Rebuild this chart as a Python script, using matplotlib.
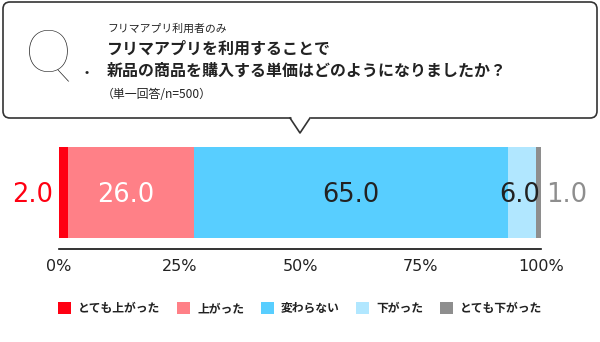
import matplotlib
matplotlib.use('Agg')
import matplotlib.pyplot as plt
from matplotlib.patches import FancyBboxPatch, Rectangle

plt.rcParams['font.family'] = ['Noto Sans CJK JP', 'DejaVu Sans']

# data
categories = ['とても上がった', '上がった', '変わらない', '下がった', 'とても下がった']
values = [2.0, 26.0, 65.0, 6.0, 1.0]
colors = ['#FF0012', '#FF8087', '#58CEFF', '#B1E7FF', '#8E8E8E']
label_colors = ['#FF0012', '#FFFFFF', '#222222', '#222222', '#8E8E8E']
tick_pos = [0, 25, 50, 75, 100]
tick_labels = ['0%', '25%', '50%', '75%', '100%']

W, H = 600, 342
fig = plt.figure(figsize=(6, 3.42), dpi=100)

# overlay in pixel coords for the question box
ov = fig.add_axes([0, 0, 1, 1])
ov.set_xlim(0, W)
ov.set_ylim(H, 0)
ov.axis('off')

box = FancyBboxPatch((3, 2), 594, 116, boxstyle='round,pad=0,rounding_size=7',
                     fc='white', ec='#333333', lw=1.2)
ov.add_patch(box)
# pointer under the box
ov.plot([290.5, 309.5], [118, 118], color='white', lw=2.5, solid_capstyle='butt')
ov.plot([290, 300, 310], [118, 133, 118], color='#333333', lw=1.2)

ov.text(48, 55, 'Q', fontsize=43, family=['Lato', 'DejaVu Sans'], fontweight='light',
        color='#222222', ha='center', va='center')
ov.text(87, 72, '•', fontsize=9, color='#222222', ha='center', va='center')

ov.text(107, 29, 'フリマアプリ利用者のみ', fontsize=7.8, color='#222222', va='center')
ov.text(107, 49, 'フリマアプリを利用することで', fontsize=11.5, fontweight='bold',
        color='#222222', va='center')
ov.text(107, 71, '新品の商品を購入する単価はどのようになりましたか？', fontsize=11.5,
        fontweight='bold', color='#222222', va='center')
ov.text(102, 95, '（単一回答/n=500）', fontsize=8.6, color='#222222', va='center')

# stacked bar
ax_top, ax_bot = 140, 249.3
ax = fig.add_axes([58.7 / W, 1 - ax_bot / H, 482.6 / W, (ax_bot - ax_top) / H])
bar_y = (ax_bot - 238) / (ax_bot - ax_top)
bar_h = (238 - 147.3) / (ax_bot - ax_top)

left = 0
lefts = []
for v, c in zip(values, colors):
    ax.barh(bar_y, v, left=left, height=bar_h, color=c, align='edge')
    lefts.append(left)
    left += v

num_font = ['DejaVu Sans']
yc = bar_y + bar_h / 2 - 0.02
fs = 18.5
ax.text(lefts[0] - 1.2, yc, f'{values[0]:.1f}', color=label_colors[0], fontsize=fs,
        family=num_font, ha='right', va='center')
ax.text(lefts[1] + values[1] / 2 - 1.2, yc, f'{values[1]:.1f}', color=label_colors[1],
        fontsize=fs, family=num_font, ha='center', va='center')
ax.text(lefts[2] + values[2] / 2, yc, f'{values[2]:.1f}', color=label_colors[2],
        fontsize=fs, family=num_font, ha='center', va='center')
ax.text(lefts[3] + values[3] + 0.7, yc, f'{values[3]:.1f}', color=label_colors[3],
        fontsize=fs, family=num_font, ha='right', va='center')
ax.text(lefts[4] + values[4] + 1.1, yc, f'{values[4]:.1f}', color=label_colors[4],
        fontsize=fs, family=num_font, ha='left', va='center')

ax.set_xlim(0, 100)
ax.set_ylim(0, 1)
for s in ['top', 'left', 'right']:
    ax.spines[s].set_visible(False)
ax.spines['bottom'].set_linewidth(1.2)
ax.spines['bottom'].set_color('#111111')
ax.set_yticks([])
ax.set_xticks(tick_pos)
ax.set_xticklabels(tick_labels, fontsize=11.5, color='#222222', family=num_font)
ax.tick_params(axis='x', length=0, pad=7)
ax.patch.set_alpha(0)

# legend
handles = [Rectangle((0, 0), 1, 1, fc=c, ec='none') for c in colors]
leg = fig.legend(handles, categories, loc='center', bbox_to_anchor=(0.5, 1 - 308.5 / H),
                 ncol=5, frameon=False, handlelength=1.1, handleheight=1.1,
                 handletextpad=0.6, columnspacing=1.4,
                 prop={'size': 8.5, 'weight': 'bold'})
for t in leg.get_texts():
    t.set_color('#222222')

fig.savefig('out.png', dpi=100, facecolor='white')
